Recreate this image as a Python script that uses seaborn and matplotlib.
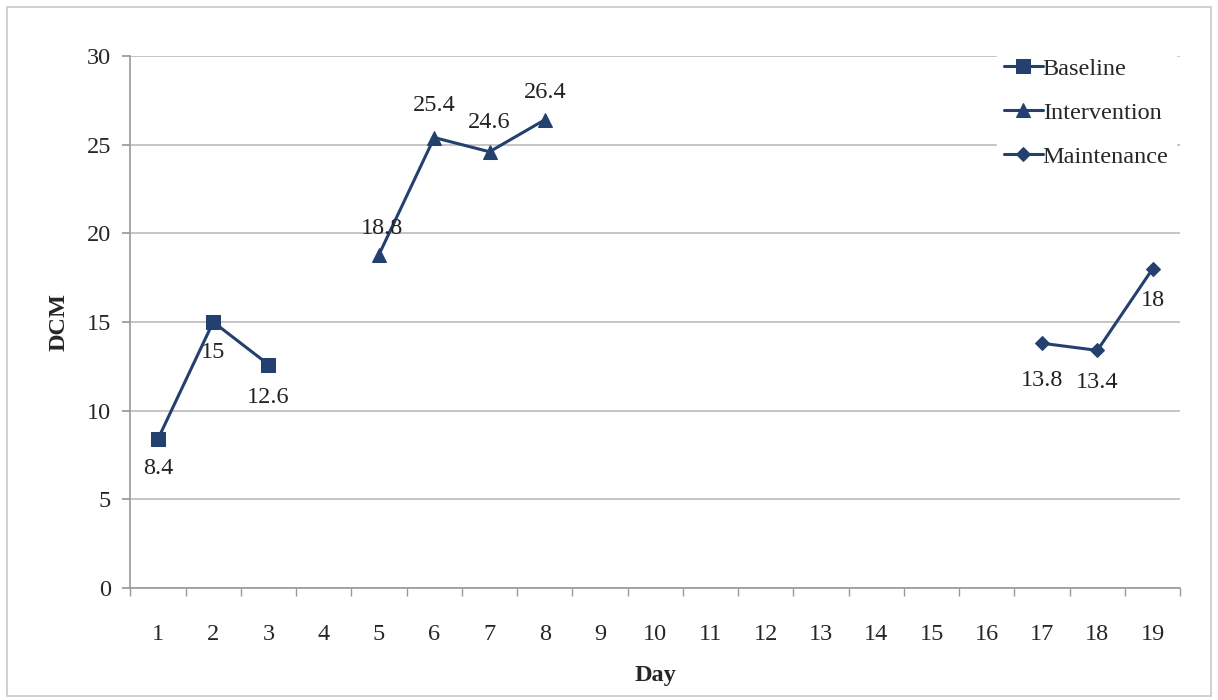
import matplotlib
matplotlib.use("Agg")
import matplotlib.pyplot as plt
import seaborn as sns
import pandas as pd
import numpy as np
from matplotlib.patches import Rectangle

days = [str(d) for d in range(1, 20)]
baseline_days = ["1", "2", "3"]
baseline_vals = [8.4, 15, 12.6]
intervention_days = ["5", "6", "7", "8"]
intervention_vals = [18.8, 25.4, 24.6, 26.4]
maintenance_days = ["17", "18", "19"]
maintenance_vals = [13.8, 13.4, 18]
baseline_labels = ["8.4", "15", "12.6"]
intervention_labels = ["18.8", "25.4", "24.6", "26.4"]
maintenance_labels = ["13.8", "13.4", "18"]

sns.set_theme(style="white")
plt.rcParams['font.family'] = ['Liberation Serif', 'DejaVu Serif']

color = "#23406F"
FS = 17.5
fig = plt.figure(figsize=(12.18, 7.0), dpi=100)
ax = fig.add_axes([0.107, 0.16, 0.862, 0.76])

pos = {d: i for i, d in enumerate(days)}
series = [
    ("Baseline", baseline_days, baseline_vals, baseline_labels, "s", 10),
    ("Intervention", intervention_days, intervention_vals, intervention_labels, "^", 10),
    ("Maintenance", maintenance_days, maintenance_vals, maintenance_labels, "D", 7.5),
]
offsets = {
    "Baseline": [(0, -21), (0, -22), (0, -24)],
    "Intervention": [(2, 19), (0, 23), (0, 21), (0, 20)],
    "Maintenance": [(0, -27), (0, -23), (0, -23)],
}
for name, ds, vs, labs, mk, ms in series:
    df = pd.DataFrame({"x": [pos[d] for d in ds], "y": vs})
    sns.lineplot(data=df, x="x", y="y", ax=ax, color=color, marker=mk,
                 markersize=ms, markeredgecolor=color, linewidth=2.2, label=name)
    for xv, yv, lab, off in zip(df["x"], df["y"], labs, offsets[name]):
        ax.annotate(lab, (xv, yv), xytext=off, textcoords="offset points",
                    ha="center", va="center", fontsize=FS, color="#222222")

ax.set_xlim(-0.5, len(days) - 0.5)
ax.set_ylim(0, 30)
ax.set_yticks(np.arange(0, 31, 5))
ax.set_yticklabels([str(v) for v in range(0, 31, 5)], fontsize=FS)
ax.set_xticks(range(len(days)))
ax.set_xticklabels(days, fontsize=FS)
ax.set_xticks(np.arange(-0.5, len(days), 1.0), minor=True)
ax.tick_params(axis="x", which="major", length=0, pad=26)
ax.tick_params(axis="x", which="minor", length=6, color="#999999", direction="out", bottom=True)
ax.tick_params(axis="y", which="major", length=6, color="#999999", direction="out", left=True, pad=8)
ax.yaxis.grid(True, color="#BBBBBB", linewidth=1.2)
ax.xaxis.grid(False)
for s in ["top", "right"]:
    ax.spines[s].set_visible(False)
for s in ["left", "bottom"]:
    ax.spines[s].set_color("#999999")
    ax.spines[s].set_linewidth(1.2)
ax.set_xlabel("Day", fontsize=FS, fontweight="bold", labelpad=14)
ax.set_ylabel("DCM", fontsize=FS, fontweight="bold", labelpad=12)

leg = ax.legend(loc="upper left", bbox_to_anchor=(0.825, 1.01), frameon=True,
                fontsize=FS, handlelength=1.6, handletextpad=0.0,
                labelspacing=0.9, borderaxespad=0.0, borderpad=0.3)
leg.get_frame().set_edgecolor("white")
leg.get_frame().set_facecolor("white")
leg.get_frame().set_alpha(1)

fig.patches.append(Rectangle((0.006, 0.006), 0.988, 0.984, transform=fig.transFigure,
                             fill=False, edgecolor="#C8C8C8", linewidth=1.2))
fig.savefig("out.png", dpi=100)
